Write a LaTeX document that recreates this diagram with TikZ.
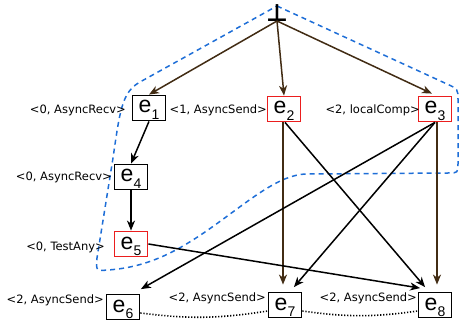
\documentclass[tikz,border=0pt]{standalone}
\usepackage{fontspec}
\setmainfont{DejaVu Sans}
\newfontfamily\boxfont{Liberation Sans}
\usetikzlibrary{arrows.meta}
\definecolor{edgebrown}{RGB}{66,44,20}
\definecolor{regionblue}{RGB}{30,110,215}
\definecolor{boxred}{RGB}{235,30,30}
\newcommand\evsub[1]{\raisebox{-6.5pt}{\fontsize{14}{14}\selectfont #1}}
\begin{document}
\begin{tikzpicture}[x=1pt,y=-1pt,
  ev/.style={draw, line width=1.8pt, minimum width=33pt, minimum height=25pt, inner sep=0pt,
    text height=17pt, text depth=7pt, font=\boxfont\fontsize{23}{23}\selectfont},
  hot/.style={ev, draw=boxred},
  lab/.style={anchor=east, inner sep=0pt, font=\fontsize{11.5}{12}\selectfont},
  arr/.style={line width=1.5pt, -{Stealth[length=10pt,width=8pt,inset=3pt]}},
  brownarr/.style={arr, draw=edgebrown, fill=edgebrown},
  blackarr/.style={arr, draw=black},
  order/.style={line width=1.6pt, dash pattern=on 1.2pt off 1.8pt, bend right=8},
  region/.style={draw=regionblue, line width=1.5pt, dash pattern=on 5pt off 4pt}]
\useasboundingbox (0,0) rectangle (460,320);

% region
\draw[region] (277,6) -- (447,84) .. controls (458,89) .. (458,100) -- (458,163)
  .. controls (458,173) .. (448,173) -- (307,174)
  .. controls (280,174) and (250,200) .. (215,225)
  .. controls (180,250) and (150,267) .. (108,270)
  .. controls (96,271) .. (97,258) -- (113,158)
  .. controls (120,110) and (122,92) .. (140,82) -- cycle;

% nodes
\node[inner sep=0pt, anchor=base, font=\bfseries\fontsize{24}{24}\selectfont] (bot) at (277,22) {⊥};
\coordinate (bots) at (277,21);
\node[ev]  (e1) at (149,108) {e\evsub{1}};
\node[hot] (e2) at (284,109) {e\evsub{2}};
\node[hot] (e3) at (435,109) {e\evsub{3}};
\node[ev]  (e4) at (131,177) {e\evsub{4}};
\node[hot] (e5) at (131,244) {e\evsub{5}};
\node[ev]  (e6) at (123,307) {e\evsub{6}};
\node[ev]  (e7) at (285,305) {e\evsub{7}};
\node[ev]  (e8) at (435,305) {e\evsub{8}};

% labels
\node[lab] (l1) at (126,110) {<0, AsyncRecv>};
\node[lab] (l2) at (267,110) {<1, AsyncSend>};
\node[lab] (l3) at (420,110) {<2, localComp>};
\node[lab] (l4) at (112,177) {<0, AsyncRecv>};
\node[lab] (l5) at (105,247) {<0, TestAny>};
\node[lab] (l6) at (104,300) {<2, AsyncSend>};
\node[lab] (l7) at (266,298) {<2, AsyncSend>};
\node[lab] (l8) at (417,298) {<2, AsyncSend>};

% edges
\draw[brownarr] (bots) -- (e1.north);
\draw[brownarr] (bots) -- (e2.north);
\draw[brownarr] (bots) -- ([xshift=-3pt,yshift=2pt]e3.north);
\draw[blackarr] (e1.south) -- (e4.north);
\draw[blackarr] (e4.south) -- (e5.north);
\draw[brownarr] ([xshift=-1pt]e2.south) -- ([xshift=-2pt,yshift=7pt]e7.north);
\draw[blackarr] ([xshift=1pt]e2.south) -- ([xshift=7.5pt,yshift=4.5pt]e8.north west);
\draw[brownarr] ([xshift=2pt]e3.south) -- ([xshift=2pt,yshift=7pt]e8.north);
\draw[blackarr] (e3.south) -- ([xshift=-8.5pt,yshift=4.5pt]e7.north east);
\draw[blackarr] (e3.south) -- ([xshift=0.5pt,yshift=4.5pt]e6.north east);
\draw[blackarr] (e5.east) -- ([xshift=2.5pt,yshift=3.5pt]e8.north west);

% order
\draw[order] ([yshift=-6pt]e6.east) to ([yshift=-6pt]e7.west);
\draw[order] ([yshift=-6pt]e7.east) to ([yshift=-6pt]e8.west);
\end{tikzpicture}
\end{document}
